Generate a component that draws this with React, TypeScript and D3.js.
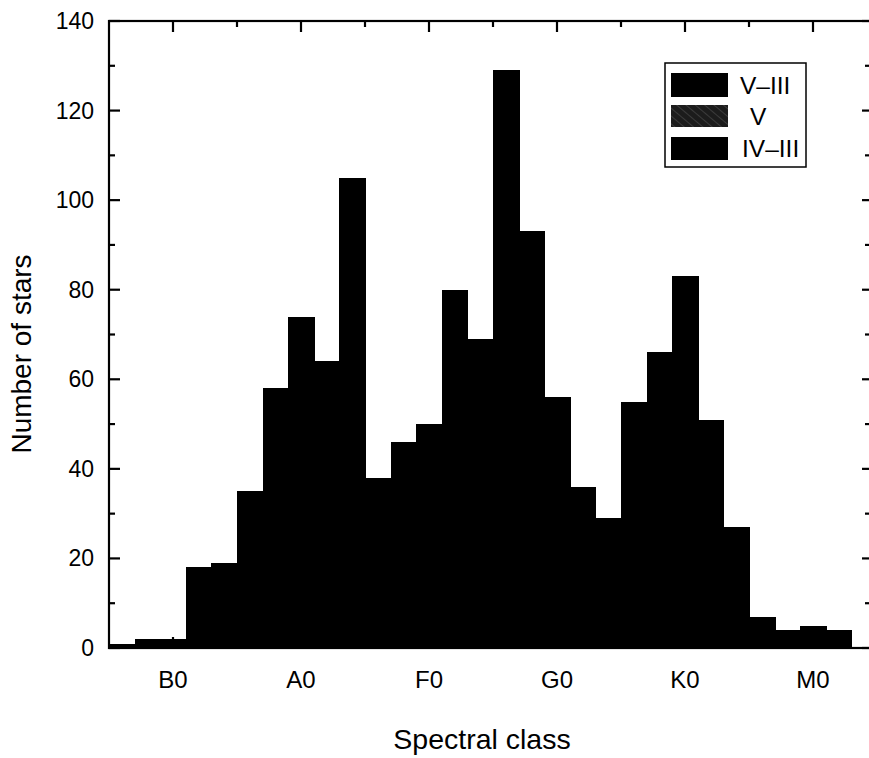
import React from "react";
import * as d3 from "d3";

// Number of stars per spectral sub-class bin (total, V–III)
const counts: number[] = [
  1, 2, 2, 18, 19, 35, 58, 74, 64, 105, 38, 46, 50, 80, 69, 129, 93, 56, 36, 29,
  55, 66, 83, 51, 27, 7, 4, 5, 4,
];
const classLabels: string[] = ["B0", "A0", "F0", "G0", "K0", "M0"];
const classPositions: number[] = [2.5, 7.5, 12.5, 17.5, 22.5, 27.5];
const minorXTicks: number[] = [5, 10, 15, 20, 25];
const yTicks: number[] = [0, 20, 40, 60, 80, 100, 120, 140];
const yMinorTicks: number[] = [10, 30, 50, 70, 90, 110, 130];
const legendLabels: string[] = ["V\u2013III", "V", "IV\u2013III"];

const W = 869;
const H = 758;
const left = 109;
const top = 21;
const bottom = 648;

export default function App() {
  const x = d3.scaleLinear().domain([0, 30]).range([left, left + 30 * 25.6]);
  const y = d3.scaleLinear().domain([0, 140]).range([bottom, top]);
  const right = x(30);
  const font = "'Liberation Sans', Arial, sans-serif";

  return (
    <svg
      width={W}
      height={H}
      style={{ position: "absolute", left: 0, top: 0, background: "#fff" }}
      fontFamily={font}
    >
      <defs>
        <pattern id="hatch" width="6" height="6" patternUnits="userSpaceOnUse" patternTransform="rotate(-50)">
          <rect width="6" height="6" fill="#1c1c1c" />
          <line x1="0" y1="0" x2="0" y2="6" stroke="#5a5a5a" strokeWidth="1" />
        </pattern>
      </defs>
      {/* bars */}
      <g shapeRendering="crispEdges">
        {counts.map((c, i) => (
          <rect
            key={i}
            x={Math.round(x(i))}
            y={y(c)}
            width={Math.round(x(i + 1)) - Math.round(x(i)) + 1}
            height={y(0) - y(c)}
            fill="#000"
          />
        ))}
      </g>
      {/* frame */}
      <rect x={left} y={top} width={right - left} height={bottom - top} fill="none" stroke="#000" strokeWidth={2.2} />
      {/* y ticks */}
      {yTicks.map((t) => (
        <g key={"y" + t}>
          <line x1={left} x2={left + 11} y1={y(t)} y2={y(t)} stroke="#000" strokeWidth={2.2} />
          <line x1={W} x2={W - 7} y1={y(t)} y2={y(t)} stroke="#000" strokeWidth={2.2} />
          <text x={94} y={y(t)} dy="0.35em" textAnchor="end" fontSize={23} fill="#000">
            {t}
          </text>
        </g>
      ))}
      {yMinorTicks.map((t) => (
        <g key={"ym" + t}>
          <line x1={left} x2={left + 6} y1={y(t)} y2={y(t)} stroke="#000" strokeWidth={2.2} />
          <line x1={W} x2={W - 4} y1={y(t)} y2={y(t)} stroke="#000" strokeWidth={2.2} />
        </g>
      ))}
      {/* x ticks */}
      {classPositions.map((p, i) => (
        <g key={"x" + i}>
          <line x1={x(p)} x2={x(p)} y1={top} y2={top + 11} stroke="#000" strokeWidth={2.2} />
          <line x1={x(p)} x2={x(p)} y1={bottom} y2={bottom - 11} stroke="#000" strokeWidth={2.2} />
          <text x={x(p)} y={688} textAnchor="middle" fontSize={24} fill="#000">
            {classLabels[i]}
          </text>
        </g>
      ))}
      {minorXTicks.map((p) => (
        <g key={"xm" + p}>
          <line x1={x(p)} x2={x(p)} y1={top} y2={top + 6} stroke="#000" strokeWidth={2.2} />
          <line x1={x(p)} x2={x(p)} y1={bottom} y2={bottom - 6} stroke="#000" strokeWidth={2.2} />
        </g>
      ))}
      {/* axis titles */}
      <text x={482} y={749} textAnchor="middle" fontSize={28.5} fill="#000">
        Spectral class
      </text>
      <text
        transform={`translate(31, 354) rotate(-90)`}
        textAnchor="middle"
        fontSize={28}
        fill="#000"
      >
        Number of stars
      </text>
      {/* legend */}
      <rect x={665} y={63} width={141} height={104} fill="#fff" stroke="#000" strokeWidth={1.5} />
      <rect x={671} y={73} width={57} height={24} fill="#000" />
      <rect x={671} y={105} width={57} height={22} fill="url(#hatch)" />
      <rect x={671} y={137} width={57} height={23} fill="#000" />
      <text x={740} y={94} fontSize={24.5} fill="#000">{legendLabels[0]}</text>
      <text x={750} y={125} fontSize={24.5} fill="#000">{legendLabels[1]}</text>
      <text x={742} y={157} fontSize={24.5} fill="#000">{legendLabels[2]}</text>
    </svg>
  );
}
